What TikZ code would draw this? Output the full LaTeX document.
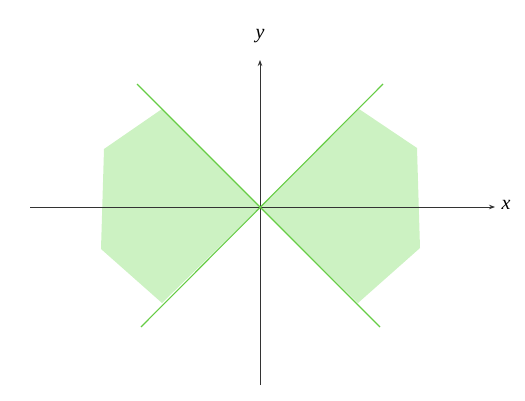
\documentclass[tikz,border=0pt]{standalone}
\usepackage{fontspec}
\setmainfont{Liberation Serif}
\usetikzlibrary{arrows.meta}
\definecolor{lineg}{HTML}{66CC44}
\definecolor{fillg}{HTML}{CCF2C2}
\definecolor{axisc}{HTML}{333333}
\tikzset{
  axis/.style={draw=axisc, line width=0.9pt, -{Stealth[length=6pt,width=4.5pt]}},
  bound/.style={draw=lineg, line width=1.1pt},
  lbl/.style={font=\fontsize{20}{22}\selectfont\itshape, inner sep=0pt}
}
\begin{document}
\begin{tikzpicture}[x=1pt,y=-1pt]
\useasboundingbox (0,0) rectangle (525,401);
\coordinate (O) at (260,207);
\fill[fillg] (O) -- (359,109) -- (417,148) -- (420,248) -- (358,303) -- cycle;
\fill[fillg] (O) -- (162,109) -- (104,149) -- (101,249) -- (162,303) -- cycle;
\coordinate (xs) at (30,207);
\coordinate (xe) at (495,207);
\coordinate (ys) at (260,385);
\coordinate (ye) at (260,60);
\draw[axis] (xs) -- (xe);
\draw[axis] (ys) -- (ye);
\node[lbl] (xl) at (506,205) {x};
\node[lbl] (yl) at (260,36) {y};
\coordinate (a1) at (137,84);
\coordinate (a2) at (380,327);
\coordinate (b1) at (383,84);
\coordinate (b2) at (141,327);
\draw[bound] (a1) -- (a2);
\draw[bound] (b1) -- (b2);
\end{tikzpicture}
\end{document}
